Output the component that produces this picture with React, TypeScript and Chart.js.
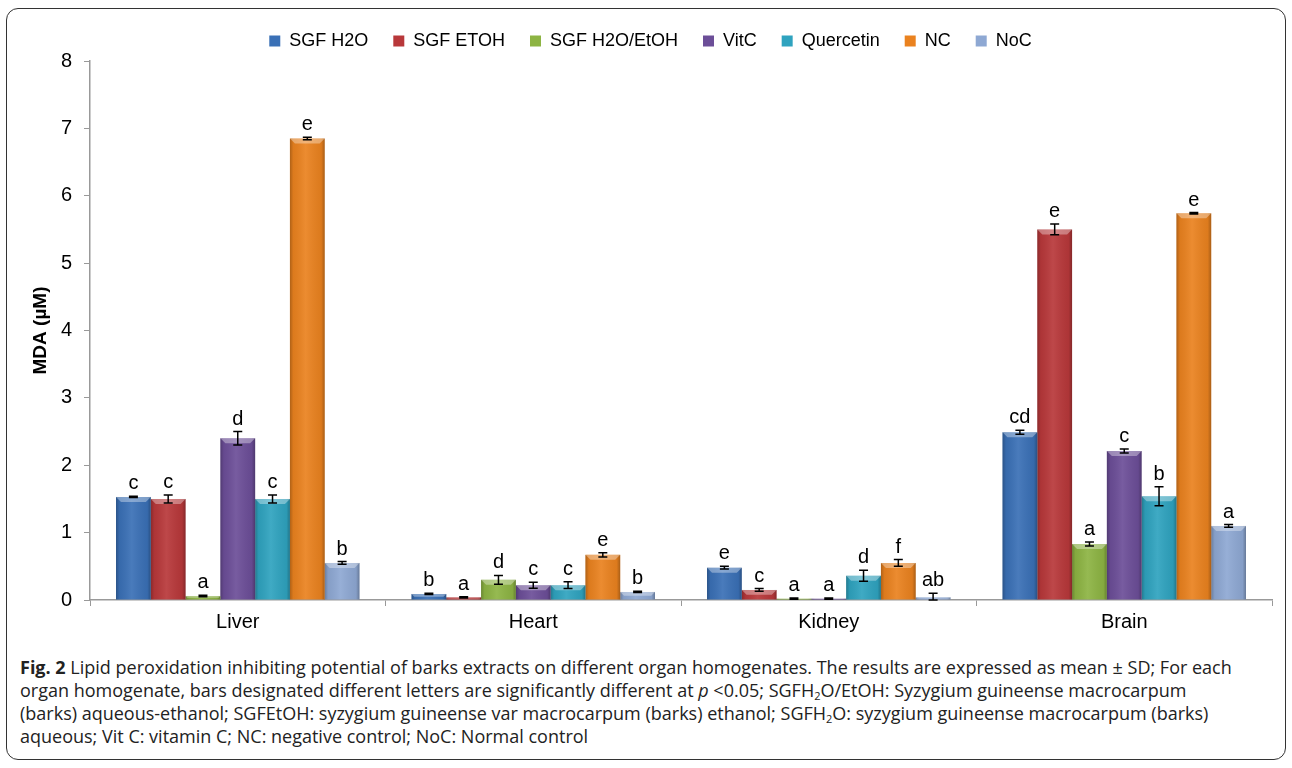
import React, { useEffect, useRef } from "react";
import { Chart, registerables } from "chart.js";

Chart.register(...registerables);

// Organ homogenates on the x axis
const organs = ["Liver", "Heart", "Kidney", "Brain"];

// Treatment groups (legend order)
const seriesNames = ["SGF H2O", "SGF ETOH", "SGF H2O/EtOH", "VitC", "Quercetin", "NC", "NoC"];
const seriesColors = ["#3a70b6", "#b8383a", "#8db443", "#6c4e98", "#2fa3bf", "#ea821f", "#8ea8d3"];

// MDA (µM) means per organ: Liver, Heart, Kidney, Brain
const sgfH2O = [1.53, 0.09, 0.48, 2.49];
const sgfEtOH = [1.5, 0.04, 0.15, 5.5];
const sgfH2OEtOH = [0.06, 0.3, 0.02, 0.83];
const vitC = [2.4, 0.22, 0.02, 2.21];
const quercetin = [1.5, 0.22, 0.36, 1.54];
const negControl = [6.85, 0.67, 0.55, 5.74];
const normControl = [0.55, 0.12, 0.04, 1.1];

// Standard deviations
const sdSgfH2O = [0.01, 0.01, 0.02, 0.03];
const sdSgfEtOH = [0.06, 0.01, 0.02, 0.08];
const sdSgfH2OEtOH = [0.01, 0.065, 0.01, 0.03];
const sdVitC = [0.1, 0.045, 0.01, 0.03];
const sdQuercetin = [0.06, 0.05, 0.08, 0.14];
const sdNegControl = [0.02, 0.03, 0.05, 0.01];
const sdNormControl = [0.02, 0.01, 0.06, 0.02];

// Significance letters
const lettersSgfH2O = ["c", "b", "e", "cd"];
const lettersSgfEtOH = ["c", "a", "c", "e"];
const lettersSgfH2OEtOH = ["a", "d", "a", "a"];
const lettersVitC = ["d", "c", "a", "c"];
const lettersQuercetin = ["c", "c", "d", "b"];
const lettersNegControl = ["e", "e", "f", "e"];
const lettersNormControl = ["b", "b", "ab", "a"];

const yTicks = [0, 1, 2, 3, 4, 5, 6, 7, 8];

const seriesValues = [sgfH2O, sgfEtOH, sgfH2OEtOH, vitC, quercetin, negControl, normControl];
const seriesSd = [sdSgfH2O, sdSgfEtOH, sdSgfH2OEtOH, sdVitC, sdQuercetin, sdNegControl, sdNormControl];
const seriesLetters = [
  lettersSgfH2O,
  lettersSgfEtOH,
  lettersSgfH2OEtOH,
  lettersVitC,
  lettersQuercetin,
  lettersNegControl,
  lettersNormControl,
];

const FONT = "'Liberation Sans', Arial, sans-serif";

// Bevelled bar faces, error bars and significance letters
const barDecor = {
  id: "barDecor",
  afterDatasetsDraw(chart: any) {
    const ctx = chart.ctx as CanvasRenderingContext2D;
    const yScale = chart.scales.y;
    chart.data.datasets.forEach((ds: any, di: number) => {
      const meta = chart.getDatasetMeta(di);
      meta.data.forEach((bar: any, i: number) => {
        const w = bar.width;
        const left = bar.x - w / 2;
        const right = bar.x + w / 2;
        const top = bar.y;
        const bottom = bar.base;
        const h = bottom - top;
        ctx.save();
        // side shading
        const g = ctx.createLinearGradient(left, 0, right, 0);
        g.addColorStop(0, "rgba(0,0,0,0.25)");
        g.addColorStop(0.1, "rgba(0,0,0,0.06)");
        g.addColorStop(0.45, "rgba(255,255,255,0.08)");
        g.addColorStop(0.9, "rgba(0,0,0,0.06)");
        g.addColorStop(1, "rgba(0,0,0,0.28)");
        ctx.fillStyle = g;
        ctx.fillRect(left, top, w, h);
        // top bevel
        const b = Math.min(5, h / 2);
        if (b > 0.5) {
          ctx.beginPath();
          ctx.moveTo(left, top);
          ctx.lineTo(right, top);
          ctx.lineTo(right - b, top + b);
          ctx.lineTo(left + b, top + b);
          ctx.closePath();
          ctx.fillStyle = "rgba(255,255,255,0.35)";
          ctx.fill();
        }
        // error bar
        const v = seriesValues[di][i];
        const sd = seriesSd[di][i];
        const yHi = yScale.getPixelForValue(v + sd);
        const yLo = yScale.getPixelForValue(Math.max(0, v - sd));
        ctx.strokeStyle = "#000";
        ctx.lineWidth = 1.5;
        ctx.beginPath();
        ctx.moveTo(bar.x, yHi);
        ctx.lineTo(bar.x, yLo);
        ctx.moveTo(bar.x - 4.5, yHi);
        ctx.lineTo(bar.x + 4.5, yHi);
        ctx.moveTo(bar.x - 4.5, yLo);
        ctx.lineTo(bar.x + 4.5, yLo);
        ctx.stroke();
        // letter
        ctx.fillStyle = "#000";
        ctx.font = `20px ${FONT}`;
        ctx.textAlign = "center";
        ctx.textBaseline = "alphabetic";
        ctx.fillText(seriesLetters[di][i], bar.x, yHi - 7);
        ctx.restore();
      });
    });
  },
};

// Fixed legend block height so the plot area starts where it should
const legendHeight = {
  id: "legendHeight",
  beforeInit(chart: any) {
    const fit = chart.legend.fit;
    chart.legend.fit = function () {
      fit.bind(chart.legend)();
      this.height = 54;
    };
  },
};

export default function App() {
  const canvasRef = useRef<HTMLCanvasElement | null>(null);

  useEffect(() => {
    if (!canvasRef.current) return;
    const chart = new Chart(canvasRef.current, {
      type: "bar",
      data: {
        labels: organs,
        datasets: seriesNames.map((name, k) => ({
          label: name,
          data: seriesValues[k],
          backgroundColor: seriesColors[k],
          borderWidth: 0,
          categoryPercentage: 0.824,
          barPercentage: 1.0,
        })),
      },
      options: {
        animation: false,
        responsive: false,
        maintainAspectRatio: false,
        layout: { padding: { top: 7, left: 29, right: 20, bottom: 0 } },
        plugins: {
          tooltip: { enabled: false },
          legend: {
            position: "top",
            align: "center",
            labels: {
              boxWidth: 11,
              boxHeight: 11,
              padding: 25,
              color: "#000",
              font: { family: FONT, size: 18 },
            },
          },
        },
        scales: {
          x: {
            offset: true,
            border: { color: "#999", width: 1.5 },
            grid: {
              display: true,
              offset: true,
              drawOnChartArea: false,
              drawTicks: true,
              tickLength: 6,
              color: "#999",
            },
            ticks: { color: "#000", padding: 4, font: { family: FONT, size: 20 } },
            afterFit(scale: any) {
              scale.height = 45;
            },
          },
          y: {
            min: 0,
            max: 8,
            afterBuildTicks(scale: any) {
              scale.ticks = yTicks.map((v) => ({ value: v }));
            },
            border: { color: "#999", width: 1.5 },
            grid: {
              display: true,
              drawOnChartArea: false,
              drawTicks: true,
              tickLength: 6,
              color: "#999",
            },
            ticks: { color: "#000", padding: 12, font: { family: FONT, size: 20 } },
            title: {
              display: true,
              text: "MDA (µM)",
              color: "#000",
              padding: 0,
              font: { family: FONT, size: 19, weight: "bold" },
            },
            afterFit(scale: any) {
              scale.width = 61;
            },
          },
        },
      },
      plugins: [legendHeight, barDecor],
    });
    return () => chart.destroy();
  }, []);

  const captionStyle: React.CSSProperties = {
    position: "absolute",
    left: 20,
    top: 656,
    fontFamily: "'Open Sans', sans-serif",
    fontSize: 18,
    lineHeight: "23px",
    color: "#222",
    whiteSpace: "nowrap",
  };
  const subStyle: React.CSSProperties = { fontSize: 11, lineHeight: 0, verticalAlign: "-3px" };

  return (
    <div style={{ position: "absolute", left: 0, top: 0, width: 1292, height: 768, background: "#fff" }}>
      <div
        style={{
          position: "absolute",
          left: 6,
          top: 8,
          width: 1280,
          height: 752,
          border: "1.5px solid #333",
          borderRadius: 12,
          boxSizing: "border-box",
        }}
      />
      <canvas
        ref={canvasRef}
        width={1292}
        height={645}
        style={{ position: "absolute", left: 0, top: 0, width: 1292, height: 645 }}
      />
      <div style={captionStyle}>
        <div style={{ height: 23 }}>
          <b>Fig. 2</b> Lipid peroxidation inhibiting potential of barks extracts on different organ homogenates. The
          results are expressed as mean ± SD; For each
        </div>
        <div style={{ height: 23 }}>
          organ homogenate, bars designated different letters are significantly different at <i>p</i> &lt;0.05;
          SGFH<span style={subStyle}>2</span>O/EtOH: Syzygium guineense macrocarpum
        </div>
        <div style={{ height: 23 }}>
          (barks) aqueous-ethanol; SGFEtOH: syzygium guineense var macrocarpum (barks) ethanol; SGFH
          <span style={subStyle}>2</span>O: syzygium guineense macrocarpum (barks)
        </div>
        <div style={{ height: 23 }}>aqueous; Vit C: vitamin C; NC: negative control; NoC: Normal control</div>
      </div>
    </div>
  );
}
